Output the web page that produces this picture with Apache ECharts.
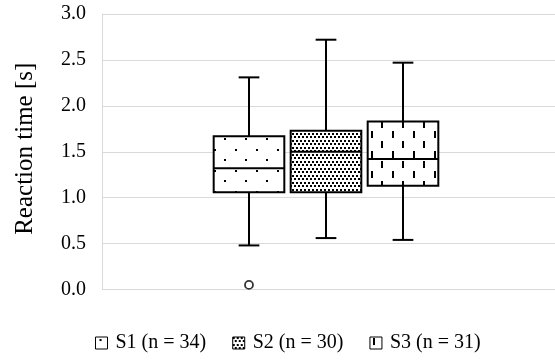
<!DOCTYPE html>
<html>
<head>
<meta charset="utf-8">
<script src="https://cdn.jsdelivr.net/npm/echarts@6/dist/echarts.min.js"></script>
<style>
  html, body { margin: 0; padding: 0; background: #fff; }
  #chart { width: 555px; height: 361px; }
</style>
</head>
<body>
<div id="chart"></div>
<script>
// Sample labels shown in the legend
const sampleNames = ['S1 (n = 34)', 'S2 (n = 30)', 'S3 (n = 31)'];
const sampleKeys = ['S1', 'S2', 'S3'];

// Box summaries: [lower whisker, Q1, median, Q3, upper whisker] in seconds
const s1Box = [0.48, 1.06, 1.32, 1.67, 2.31];
const s2Box = [0.56, 1.06, 1.50, 1.73, 2.72];
const s3Box = [0.54, 1.13, 1.42, 1.83, 2.47];

// Points beyond the whiskers
const s1Outliers = [0.05];

// Value axis
const yMin = 0;
const yMax = 3;
const yStep = 0.5;

const FONT = '"Liberation Serif", "Times New Roman", serif';

// Monochrome hatch fills built on small canvases
function makePattern(w, h, draw) {
  const c = document.createElement('canvas');
  c.width = w; c.height = h;
  const ctx = c.getContext('2d');
  ctx.fillStyle = '#ffffff';
  ctx.fillRect(0, 0, w, h);
  ctx.fillStyle = '#000000';
  draw(ctx);
  return { image: c, repeat: 'repeat' };
}
const sparseDots = makePattern(21, 21, ctx => {
  ctx.fillRect(4, 2, 2, 2);
  ctx.fillRect(14, 12, 2, 2);
});
const denseDots = makePattern(8, 7, ctx => {
  ctx.fillRect(0, 0, 2, 2);
  ctx.fillRect(4, 0, 2, 2);
  ctx.fillRect(2, 3, 2, 2);
  ctx.fillRect(6, 3, 2, 2);
});
const dashes = makePattern(21, 20, ctx => {
  ctx.fillRect(3, 1, 2, 7);
  ctx.fillRect(14, 11, 2, 7);
});
const fills = [sparseDots, denseDots, dashes];
const boxes = [s1Box, s2Box, s3Box];

function renderBox(fill) {
  return function (params, api) {
    const x = api.value(0);
    const lo = api.coord([x, api.value(1)]);
    const q1 = api.coord([x, api.value(2)]);
    const md = api.coord([x, api.value(3)]);
    const q3 = api.coord([x, api.value(4)]);
    const hi = api.coord([x, api.value(5)]);
    const band = api.size([1, 0])[0];
    const bw = band * 0.92;
    const cw = band * 0.27;
    const cx = Math.round(lo[0]);
    const line = { stroke: '#000', lineWidth: 2, lineCap: 'butt' };
    return {
      type: 'group',
      children: [
        { type: 'line', shape: { x1: cx, y1: hi[1], x2: cx, y2: q3[1] }, style: line },
        { type: 'line', shape: { x1: cx, y1: q1[1], x2: cx, y2: lo[1] }, style: line },
        { type: 'line', shape: { x1: cx - cw / 2, y1: hi[1], x2: cx + cw / 2, y2: hi[1] }, style: line },
        { type: 'line', shape: { x1: cx - cw / 2, y1: lo[1], x2: cx + cw / 2, y2: lo[1] }, style: line },
        {
          type: 'rect',
          shape: { x: cx - bw / 2, y: q3[1], width: bw, height: q1[1] - q3[1] },
          style: { fill: fill, stroke: '#000', lineWidth: 2 }
        },
        { type: 'line', shape: { x1: cx - bw / 2, y1: md[1], x2: cx + bw / 2, y2: md[1] }, style: line }
      ]
    };
  };
}

const boxSeries = boxes.map((b, i) => ({
  name: sampleNames[i],
  type: 'custom',
  xAxisIndex: 1,
  yAxisIndex: 1,
  renderItem: renderBox(fills[i]),
  itemStyle: { color: fills[i] },
  encode: { x: 0, y: [1, 2, 3, 4, 5] },
  data: [[i].concat(b)],
  z: 3
}));

const outlierSeries = {
  type: 'scatter',
  xAxisIndex: 1,
  yAxisIndex: 1,
  symbol: 'circle',
  symbolSize: 8,
  itemStyle: { color: '#fff', borderColor: '#000', borderWidth: 1.8 },
  data: s1Outliers.map(v => [0, v]),
  z: 4
};

const chart = echarts.init(document.getElementById('chart'), null, { renderer: 'canvas' });
chart.setOption({
  animation: false,
  backgroundColor: '#fff',
  textStyle: { fontFamily: FONT },
  grid: [
    { left: 102, right: 0, top: 14, bottom: 71.5, containLabel: false },
    { left: 210.6, width: 230.3, top: 14, bottom: 71.5, containLabel: false }
  ],
  xAxis: [
    { gridIndex: 0, type: 'value', show: false, min: 0, max: 1 },
    { gridIndex: 1, type: 'category', data: sampleKeys, show: false, boundaryGap: true }
  ],
  yAxis: [
    {
      gridIndex: 0,
      type: 'value',
      min: yMin, max: yMax, interval: yStep,
      name: 'Reaction time [s]',
      nameLocation: 'middle',
      nameGap: 64,
      nameRotate: 90,
      nameTextStyle: { fontFamily: FONT, fontSize: 25, color: '#000', padding: [0, 0, 0, 6] },
      axisLine: { show: true, lineStyle: { color: '#d9d9d9', width: 1 } },
      axisTick: { show: false },
      axisLabel: {
        fontFamily: FONT, fontSize: 20, color: '#000', margin: 16,
        formatter: v => v.toFixed(1)
      },
      splitLine: { show: true, lineStyle: { color: '#d9d9d9', width: 1 } }
    },
    { gridIndex: 1, type: 'value', min: yMin, max: yMax, show: false }
  ],
  legend: {
    left: 90,
    top: 328,
    itemWidth: 12,
    itemHeight: 12,
    itemGap: 26,
    textStyle: { fontFamily: FONT, fontSize: 20, color: '#000', padding: [0, 0, 0, 3] },
    data: sampleNames.map((n, i) => ({
      name: n,
      icon: 'rect',
      itemStyle: { color: fills[i], borderColor: '#000', borderWidth: 1 }
    }))
  },
  series: boxSeries.concat([outlierSeries])
});
</script>
</body>
</html>
